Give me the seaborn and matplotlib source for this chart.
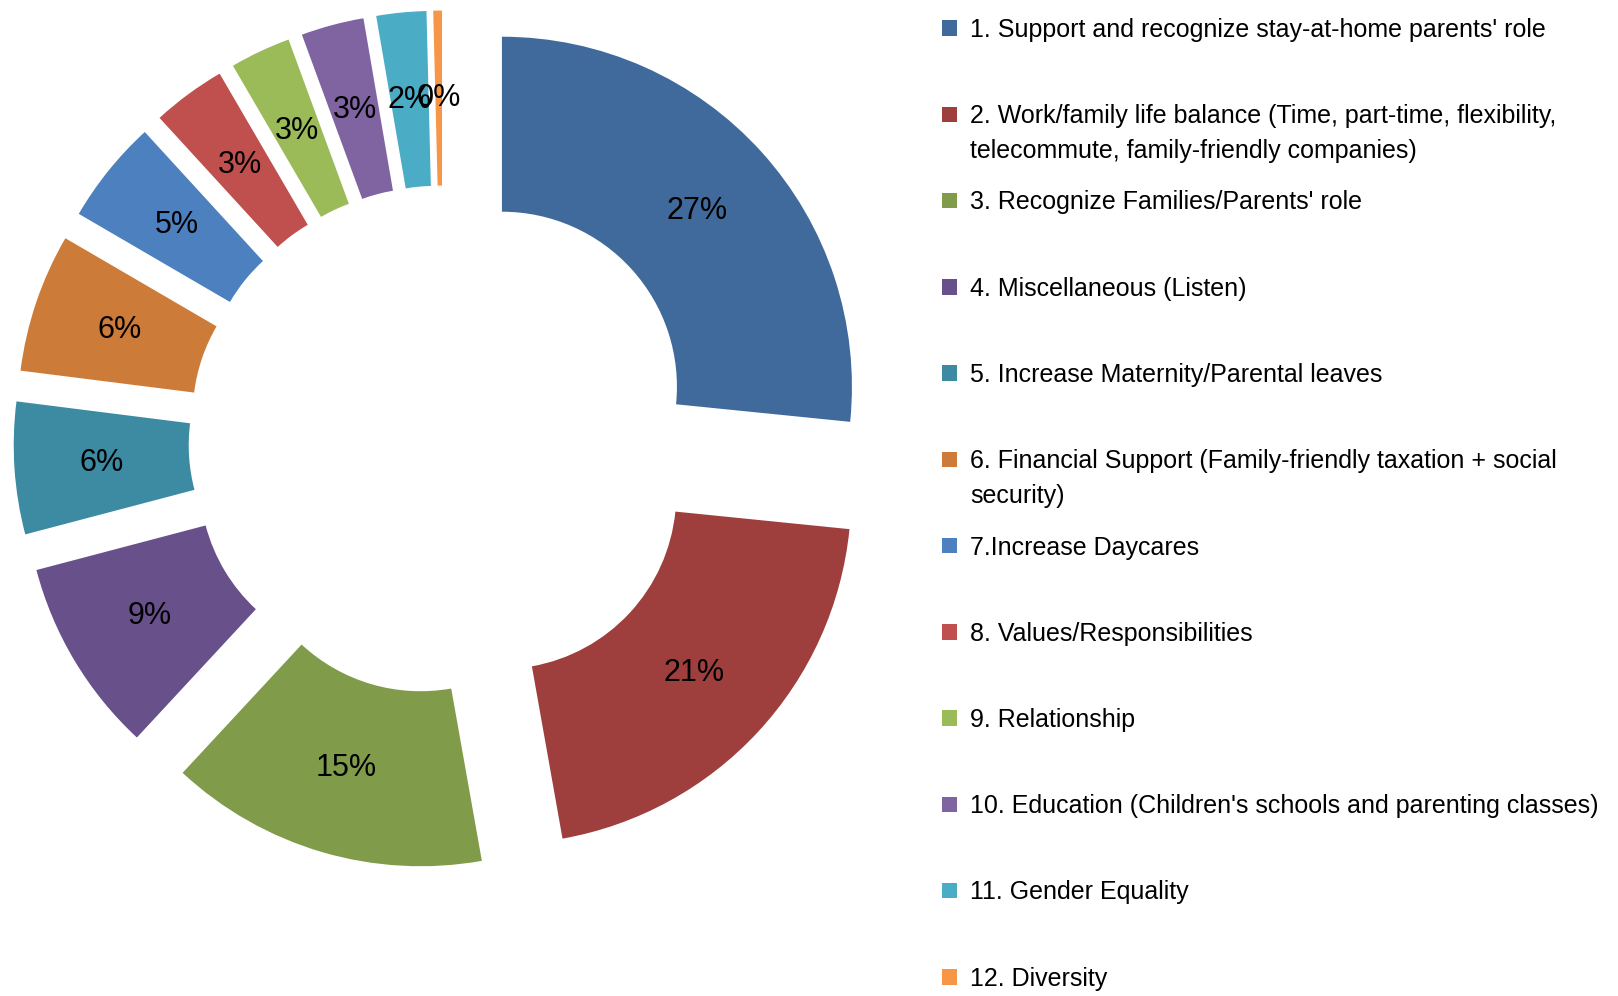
import matplotlib
matplotlib.use("Agg")
import matplotlib.pyplot as plt
import seaborn as sns

sns.set_theme(style="white")
plt.rcParams["font.family"] = ["Liberation Sans", "DejaVu Sans"]

# ---- data ----
categories = [
    "1. Support and recognize stay-at-home parents' role",
    "2. Work/family life balance (Time, part-time, flexibility,\ntelecommute, family-friendly companies)",
    "3. Recognize Families/Parents' role",
    "4. Miscellaneous (Listen)",
    "5. Increase Maternity/Parental leaves",
    "6. Financial Support (Family-friendly taxation + social\nsecurity)",
    "7.Increase Daycares",
    "8. Values/Responsibilities",
    "9. Relationship",
    "10. Education (Children's schools and parenting classes)",
    "11. Gender Equality",
    "12. Diversity",
]
values = [26.6, 20.6, 14.7, 9.0, 6.1, 6.4, 4.8, 3.4, 2.8, 2.9, 2.3, 0.4]
colors = ["#416A9C", "#9E3F3E", "#809B49", "#68508A", "#3C8BA3", "#CD7B39",
          "#4D80BE", "#C0504D", "#9BBB59", "#8064A2", "#4BACC6", "#F79646"]

W, H = 1618, 996
fig = plt.figure(figsize=(W / 100, H / 100), dpi=100)
fig.patch.set_facecolor("white")
axw = 900
ax = fig.add_axes([0, 0, axw / W, 1])

wedges, texts, autotexts = ax.pie(
    values, colors=colors, startangle=90, counterclock=False,
    radius=1.0, explode=[0.227] * len(values),
    wedgeprops=dict(width=0.5, linewidth=0),
    autopct="%1.0f%%", pctdistance=0.75,
    textprops=dict(fontsize=22, color="black"),
)

scale = 350.0  # px per data unit
cx, cy = 443.0, 440.0  # centre in px from left / top
ax.set_aspect("auto")
ax.set_xlim(-cx / scale, (axw - cx) / scale)
ax.set_ylim(-(H - cy) / scale, cy / scale)
ax.axis("off")

# ---- legend ----
fs = 18
first_lines = [c.split("\n")[0] for c in categories]
leg = fig.legend(
    wedges, first_lines, loc="upper left",
    bbox_to_anchor=(942 / W, 1 - 18 / H), frameon=False, fontsize=fs,
    handlelength=0.58, handleheight=0.58, handletextpad=0.54,
    labelspacing=2.49, borderpad=0, borderaxespad=0, labelcolor="black",
)
fig.canvas.draw()
for i, c in enumerate(categories):
    parts = c.split("\n")
    if len(parts) > 1:
        t = leg.get_texts()[i]
        bb = t.get_window_extent()
        fig.text(bb.x0 / W, (bb.y0 - 35) / H, parts[1], fontsize=fs,
                 ha="left", va="bottom", color="black")

fig.savefig("out.png", dpi=100, facecolor="white")
